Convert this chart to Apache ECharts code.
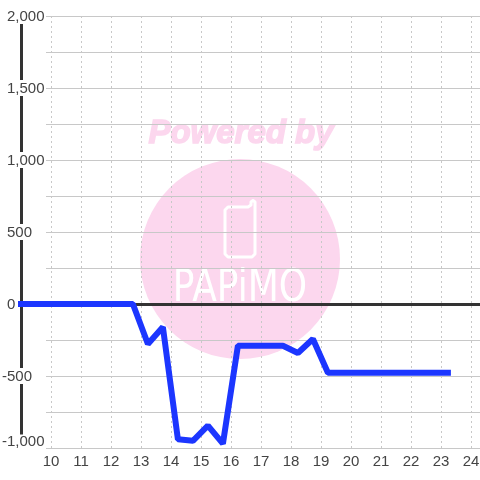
<!DOCTYPE html>
<html>
<head>
<meta charset="utf-8">
<style>
  html, body { margin: 0; padding: 0; background: #fff; }
  #chart { width: 480px; height: 480px; }
</style>
<script src="https://cdn.jsdelivr.net/npm/echarts@6/dist/echarts.min.js"></script>
</head>
<body>
<div id="chart"></div>
<script>
var hours = [8.87, 12.73, 13.23, 13.73, 14.23, 14.73, 15.23, 15.73, 16.23, 16.73, 17.23, 17.73, 18.23, 18.73, 19.23, 19.73, 20.23, 20.73, 21.23, 21.73, 22.23, 22.73, 23.33];
var values = [0, 0, -278, -160, -940, -950, -845, -970, -290, -290, -290, -290, -340, -243, -478, -478, -478, -478, -478, -478, -478, -478, -478];
var hourTicks = [10, 11, 12, 13, 14, 15, 16, 17, 18, 19, 20, 21, 22, 23, 24];
var valueTicks = [-1000, -500, 0, 500, 1000, 1500, 2000];
var watermarkTitle = 'Powered by';
var watermarkName = 'PAPiMO';

var font = '"Liberation Sans", Arial, sans-serif';
var chart = echarts.init(document.getElementById('chart'));

chart.setOption({
  animation: false,
  backgroundColor: '#fff',
  // grid 0 carries the value labels and rules, grid 1 the line and the heavy axes
  grid: [
    { left: 46, right: 0, top: 16, bottom: 32, outerBoundsMode: 'none' },
    { left: 21, width: 480, top: 16, bottom: 32, outerBoundsMode: 'none' }
  ],
  graphic: [
    { type: 'circle', z: -2, shape: { cx: 240, cy: 259, r: 100 }, style: { fill: '#fcd7ee' }, silent: true },
    { type: 'text', z: -1, x: 241, y: 134, silent: true, style: {
      text: watermarkTitle, fill: '#fcd7ee', stroke: '#fcd7ee', lineWidth: 1.5, align: 'center', verticalAlign: 'middle',
      font: 'italic bold 33px "Liberation Sans", sans-serif'
    } },
    { type: 'polygon', z: -1, silent: true, shape: {
      points: [[228, 207], [248, 207], [251, 205], [251, 202], [253, 200.5], [255, 202], [255, 254], [252, 257], [228, 257], [225, 254], [225, 210]]
    }, style: { fill: 'none', stroke: '#fff', lineWidth: 3, lineJoin: 'round' } },
    { type: 'text', z: -1, x: 240, y: 289, silent: true, scaleX: 1.2, scaleY: 1.5, style: {
      text: watermarkName, fill: '#fff', align: 'center', verticalAlign: 'middle',
      font: '30px "DejaVu Sans", sans-serif'
    } }
  ],
  xAxis: [
    {
      gridIndex: 1, type: 'value', min: 9, max: 25, interval: 1, position: 'bottom', z: 1,
      axisLine: { show: false, onZero: false },
      axisTick: { show: false },
      splitLine: { show: true, showMinLine: false, showMaxLine: false, lineStyle: { color: '#c8c8c8', type: [2, 3], width: 1 } },
      axisLabel: {
        margin: 6, color: '#444', fontFamily: font, fontSize: 15,
        customValues: hourTicks
      }
    },
    {
      // heavy zero line
      gridIndex: 1, type: 'value', min: 9, max: 25, position: 'top', z: 4,
      axisLine: { show: true, onZero: true, lineStyle: { color: '#333', width: 3 } },
      axisTick: { show: false }, axisLabel: { show: false }, splitLine: { show: false }
    },
    {
      gridIndex: 0, type: 'value', min: 9, max: 25, show: false
    }
  ],
  yAxis: [
    {
      gridIndex: 0, type: 'value', min: -1000, max: 2000, interval: 250, z: 3,
      axisLine: { show: false }, axisTick: { show: false },
      splitLine: { show: true, lineStyle: { color: '#c8c8c8', width: 1 } },
      axisLabel: {
        show: true, align: 'left', margin: 44, fontFamily: font, fontSize: 15, color: '#444',
        customValues: valueTicks,
        formatter: function (v) {
          var s = echarts.format.addCommas(v);
          if (v === valueTicks[0]) return '{low|' + s + '}';
          return v < 0 ? '{neg|' + s + '}' : '{pos|' + s + '}';
        },
        rich: {
          pos: { fontFamily: font, fontSize: 15, color: '#444', lineHeight: 15, backgroundColor: '#fff', padding: [1, 0, 0, 5] },
          neg: { fontFamily: font, fontSize: 15, color: '#444', lineHeight: 15, backgroundColor: '#fff', padding: [1, 0, 0, 0] },
          // bottom label sits above its rule, the box also hides the axis end
          low: { fontFamily: font, fontSize: 15, color: '#444', lineHeight: 13, backgroundColor: '#fff', padding: [0, 0, 12, 0] }
        }
      }
    },
    {
      // heavy vertical axis
      gridIndex: 1, type: 'value', min: -1000, max: 2000, position: 'left', z: 1,
      axisLine: { show: true, onZero: false, lineStyle: { color: '#333', width: 3 } },
      axisTick: { show: false }, axisLabel: { show: false }, splitLine: { show: false }
    }
  ],
  series: [{
    type: 'line',
    xAxisIndex: 0,
    yAxisIndex: 1,
    z: 5,
    clip: false,
    showSymbol: false,
    smooth: false,
    data: hours.map(function (h, i) { return [h, values[i]]; }),
    lineStyle: { color: '#1c36ff', width: 6, cap: 'butt', join: 'bevel' }
  }]
});
</script>
</body>
</html>
